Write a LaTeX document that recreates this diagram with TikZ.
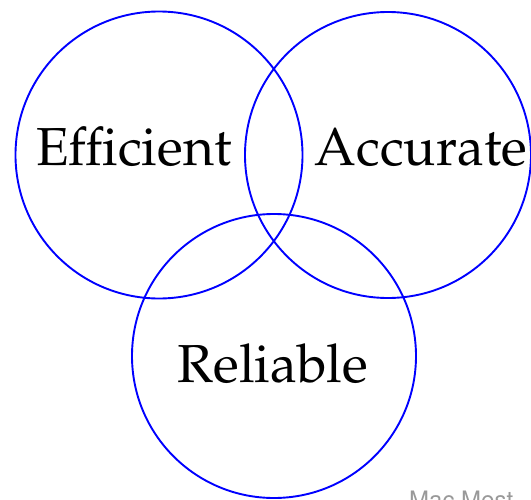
\documentclass[tikz,border=0pt]{standalone}
\usepackage[T1]{fontenc}
\usepackage{mathpazo}
\begin{document}
\begin{tikzpicture}[x=1pt,y=-1pt,
  ring/.style={draw=blue,line width=1.9pt,circle,inner sep=0pt},
  lbl/.style={font=\fontsize{53.5}{60}\selectfont,anchor=base,inner sep=0pt},
  wm/.style={font=\fontfamily{phv}\fontsize{24}{28}\selectfont,text=gray!80,anchor=base west,inner sep=0pt}]
\useasboundingbox (0,0) rectangle (531,499);
\clip (0,0) rectangle (531,499);
\node[ring,minimum size=287pt] (eff) at (159,155) {};
\node[ring,minimum size=286pt] (acc) at (388,155) {};
\node[ring,minimum size=284pt] (rel) at (274,356) {};
\node[lbl] (teff) at (134,165) {Efficient};
\node[lbl] (tacc) at (421,165) {Accurate};
\node[lbl] (trel) at (273,382) {Reliable};
\node[wm] (mark) at (409,508) {Mac Mest};
\end{tikzpicture}
\end{document}
